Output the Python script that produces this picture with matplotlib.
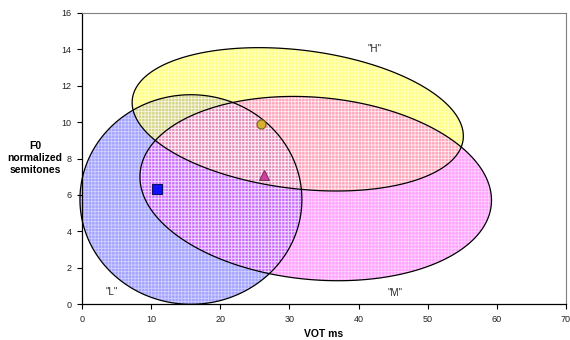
import numpy as np
import matplotlib
matplotlib.use('Agg')
import matplotlib.pyplot as plt
from matplotlib.patches import Polygon

plt.rcParams['font.family'] = ['Liberation Sans', 'DejaVu Sans']
plt.rcParams['hatch.linewidth'] = 0.6

# tone ellipses: centre, half width (VOT ms), half height (semitones), tilt (deg)
tones = ['"L"', '"H"', '"M"']
cx = [15.75, 31.2, 33.8]
cy = [5.75, 10.15, 6.35]
half_w = [16.05, 24.1, 25.5]
half_h = [5.75, 3.8, 5.0]
tilt = [0, -7, -5.2]
fills = ['#3333ff', '#ffff22', '#ff33ff']
fill_alpha = [0.45, 0.55, 0.45]

# tone means
mean_vot = [10.8, 25.9, 26.3]
mean_f0 = [6.3, 9.9, 7.1]
mean_marker = ['s', 'o', '^']
mean_face = ['#1010ff', '#d8b030', '#d040a0']
mean_edge = ['#101060', '#806020', '#803060']

# label spots
label_x = [4.3, 42.3, 45.2]
label_y = [0.7, 14.0, 0.64]

fig = plt.figure(figsize=(5.7, 3.4), dpi=100)
ax = fig.add_axes([0.1439, 0.105, 0.8491, 0.8576])
ax.set_xlim(0, 70)
ax.set_ylim(0, 16)


def ellipse_points(x0, y0, a, b, ang):
    # build in screen space so the tilt looks the same as in the original
    t = np.linspace(0, 2 * np.pi, 300)
    (px0, py0) = ax.transData.transform((x0, y0))
    sx = ax.transData.transform((1, 0))[0] - ax.transData.transform((0, 0))[0]
    sy = ax.transData.transform((0, 1))[1] - ax.transData.transform((0, 0))[1]
    ra, rb = a * sx, b * sy
    th = np.deg2rad(ang)
    u = ra * np.cos(t) * np.cos(th) - rb * np.sin(t) * np.sin(th)
    v = ra * np.cos(t) * np.sin(th) + rb * np.sin(t) * np.cos(th)
    return ax.transData.inverted().transform(np.column_stack([px0 + u, py0 + v]))


for i in [0, 1, 2]:
    pts = ellipse_points(cx[i], cy[i], half_w[i], half_h[i], tilt[i])
    ax.add_patch(Polygon(pts, closed=True, facecolor=fills[i], alpha=fill_alpha[i],
                         edgecolor='none', clip_on=False, zorder=1))
    ax.add_patch(Polygon(pts, closed=True, fill=False, hatch='+++++',
                         edgecolor='white', linewidth=0, alpha=0.5,
                         clip_on=False, zorder=1.5))

for i in [0, 1, 2]:
    pts = ellipse_points(cx[i], cy[i], half_w[i], half_h[i], tilt[i])
    ax.add_patch(Polygon(pts, closed=True, fill=False, edgecolor='black',
                         linewidth=0.9, clip_on=False, zorder=2))

for i in range(3):
    ax.plot(mean_vot[i], mean_f0[i], marker=mean_marker[i], ms=6.5,
            mfc=mean_face[i], mec=mean_edge[i], mew=0.8, ls='none', zorder=3)
    ax.text(label_x[i], label_y[i], tones[i], fontsize=7, color='#222222',
            ha='center', va='center', zorder=4)

ax.set_xticks(np.arange(0, 71, 10))
ax.set_yticks(np.arange(0, 17, 2))
ax.tick_params(direction='out', length=3.5, width=0.8, labelsize=6.5,
               colors='black', labelcolor='#222222', pad=4)
for s in ['top', 'right']:
    ax.spines[s].set_color('#808080')
    ax.spines[s].set_linewidth(0.8)
for s in ['left', 'bottom']:
    ax.spines[s].set_linewidth(0.9)

ax.set_xlabel('VOT ms', fontsize=7.5, fontweight='bold', labelpad=4)
ax.xaxis.set_label_coords(0.5, -0.085)
fig.text(35 / 570, 1 - 158 / 340, 'F0\nnormalized\nsemitones', fontsize=7.5,
         fontweight='bold', ha='center', va='center', linespacing=1.3)

fig.savefig('out.png', dpi=100)
